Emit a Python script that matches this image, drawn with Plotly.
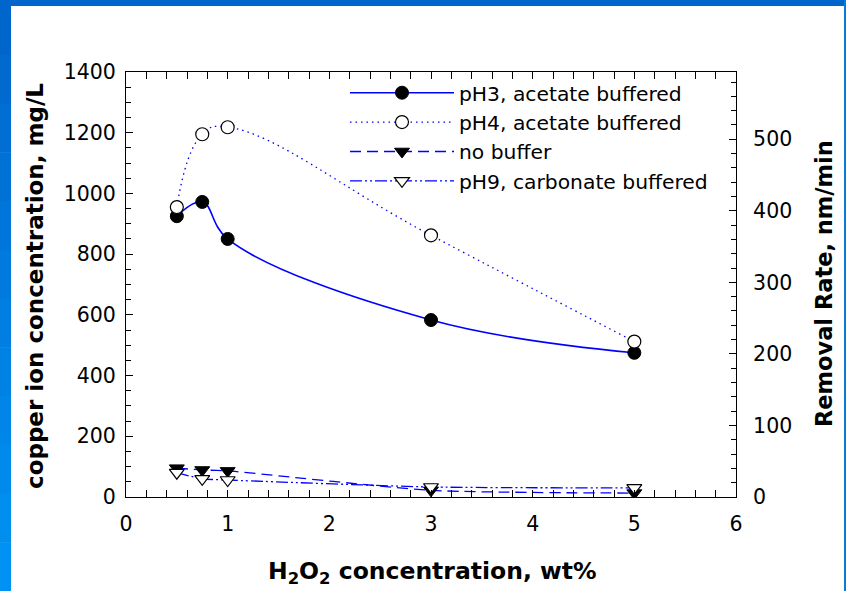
import plotly.graph_objects as go

# ---- data ----
h2o2 = [0.5, 0.75, 1, 3, 5]
ph3_acetate = [925, 972, 850, 583, 475]
ph4_acetate = [955, 1195, 1218, 862, 512]
no_buffer = [95, 89, 86, 22, 13]
ph9_carbonate = [80, 60, 56, 33, 30]

names = ["pH3, acetate buffered", "pH4, acetate buffered", "no buffer", "pH9, carbonate buffered"]
x_ticks = [0, 1, 2, 3, 4, 5, 6]
y_ticks = [0, 200, 400, 600, 800, 1000, 1200, 1400]
y2_ticks = [0, 100, 200, 300, 400, 500]

W, H = 846, 591
L, R, T, B = 126, 736, 72, 497
PW, PH = R - L, B - T


def px(xp):
    return (xp - L) / PW


def py(yp):
    return (B - yp) / PH


BLUE = "#0000FF"
FONT = "DejaVu Sans"

fig = go.Figure()

fig.add_trace(go.Scatter(
    x=h2o2, y=ph3_acetate, name=names[0], mode="lines+markers",
    line=dict(color=BLUE, width=1.6, shape="spline", smoothing=1.1),
    marker=dict(symbol="circle", size=13, color="black", line=dict(color="black", width=1)),
    legendgroup="a"))
fig.add_trace(go.Scatter(
    x=h2o2, y=ph4_acetate, name=names[1], mode="lines+markers",
    line=dict(color=BLUE, width=1.3, dash="1.5px,4px", shape="spline", smoothing=1.3),
    marker=dict(symbol="circle", size=13, color="white", line=dict(color="black", width=1.2)),
    legendgroup="b"))
fig.add_trace(go.Scatter(
    x=h2o2, y=no_buffer, name=names[2], mode="lines+markers",
    line=dict(color=BLUE, width=1.3, dash="11px,6px", shape="spline", smoothing=0.6),
    marker=dict(symbol="triangle-down", size=13, color="black", line=dict(color="black", width=1)),
    legendgroup="c"))
fig.add_trace(go.Scatter(
    x=h2o2, y=ph9_carbonate, name=names[3], mode="lines+markers",
    line=dict(color=BLUE, width=1.3, dash="12px,3px,2px,3px,2px,3px", shape="spline", smoothing=0.6),
    marker=dict(symbol="triangle-down", size=13, color="white", line=dict(color="black", width=1.2)),
    legendgroup="d"))

# invisible trace to activate the right axis
fig.add_trace(go.Scatter(x=[None], y=[None], yaxis="y2", showlegend=False, hoverinfo="skip"))

axis_common = dict(
    showgrid=False, zeroline=False, showline=True, linecolor="black", linewidth=1,
    ticks="inside", ticklen=7, tickcolor="black", tickwidth=1,
    tickfont=dict(family=FONT, size=20.5, color="black"),
)

fig.update_layout(
    width=W, height=H,
    margin=dict(l=L, r=W - R, t=T, b=H - B, pad=0),
    paper_bgcolor="white", plot_bgcolor="white",
    showlegend=True,
    legend=dict(
        x=px(345), y=py(73), xanchor="left", yanchor="top",
        bgcolor="rgba(0,0,0,0)", borderwidth=0,
        font=dict(family=FONT, size=20.3, color="black"),
        itemwidth=104, traceorder="grouped", tracegroupgap=0,
    ),
    xaxis=dict(
        range=[0, 6], tickvals=x_ticks, mirror="allticks",
        minor=dict(dtick=0.2, ticks="inside", ticklen=5, tickcolor="black", tickwidth=1),
        ticklabelstandoff=8,
        **axis_common,
    ),
    yaxis=dict(
        range=[0, 1400], tickvals=y_ticks,
        minor=dict(dtick=50, ticks="inside", ticklen=5, tickcolor="black", tickwidth=1),
        ticklabelstandoff=5,
        **axis_common,
    ),
    yaxis2=dict(
        range=[0, 594], tickvals=y2_ticks, overlaying="y", side="right",
        minor=dict(dtick=20, ticks="inside", ticklen=5, tickcolor="black", tickwidth=1),
        ticklabelstandoff=12,
        **axis_common,
    ),
    font=dict(family=FONT, color="black"),
)

# axis titles
fig.add_annotation(text="<b>H<sub>2</sub>O<sub>2</sub> concentration, wt%</b>",
                   xref="paper", yref="paper", x=px(432), y=py(572),
                   xanchor="center", yanchor="middle", showarrow=False,
                   font=dict(family=FONT, size=23.5, color="black"))
fig.add_annotation(text="<b>copper ion concentration, mg/L</b>",
                   xref="paper", yref="paper", x=px(35), y=py(286), textangle=-90,
                   xanchor="center", yanchor="middle", showarrow=False,
                   font=dict(family=FONT, size=23, color="black"))
fig.add_annotation(text="<b>Removal Rate, nm/min</b>",
                   xref="paper", yref="paper", x=px(824), y=py(284), textangle=-90,
                   xanchor="center", yanchor="middle", showarrow=False,
                   font=dict(family=FONT, size=22.5, color="black"))

# decorative blue slide frame
shapes = []
shapes.append(dict(type="rect", xref="paper", yref="paper", x0=px(0), x1=px(W), y0=py(0), y1=py(6),
                   fillcolor="#0066CC", line=dict(width=0), layer="above"))
n = 12
c0 = (0x00, 0x66, 0xCC)
c1 = (0x00, 0x92, 0xF2)
for i in range(n):
    t = i / (n - 1)
    col = "rgb(%d,%d,%d)" % tuple(round(a + (b - a) * t) for a, b in zip(c0, c1))
    y0p = 6 + (H - 6) * i / n
    y1p = 6 + (H - 6) * (i + 1) / n
    shapes.append(dict(type="rect", xref="paper", yref="paper", x0=px(0), x1=px(11),
                       y0=py(y0p), y1=py(y1p + 0.5), fillcolor=col, line=dict(width=0), layer="above"))
shapes.append(dict(type="rect", xref="paper", yref="paper", x0=px(844), x1=px(W), y0=py(0), y1=py(H),
                   fillcolor="#0A7AD8", line=dict(width=0), layer="above"))
fig.update_layout(shapes=shapes)

fig.write_html("out.html")
